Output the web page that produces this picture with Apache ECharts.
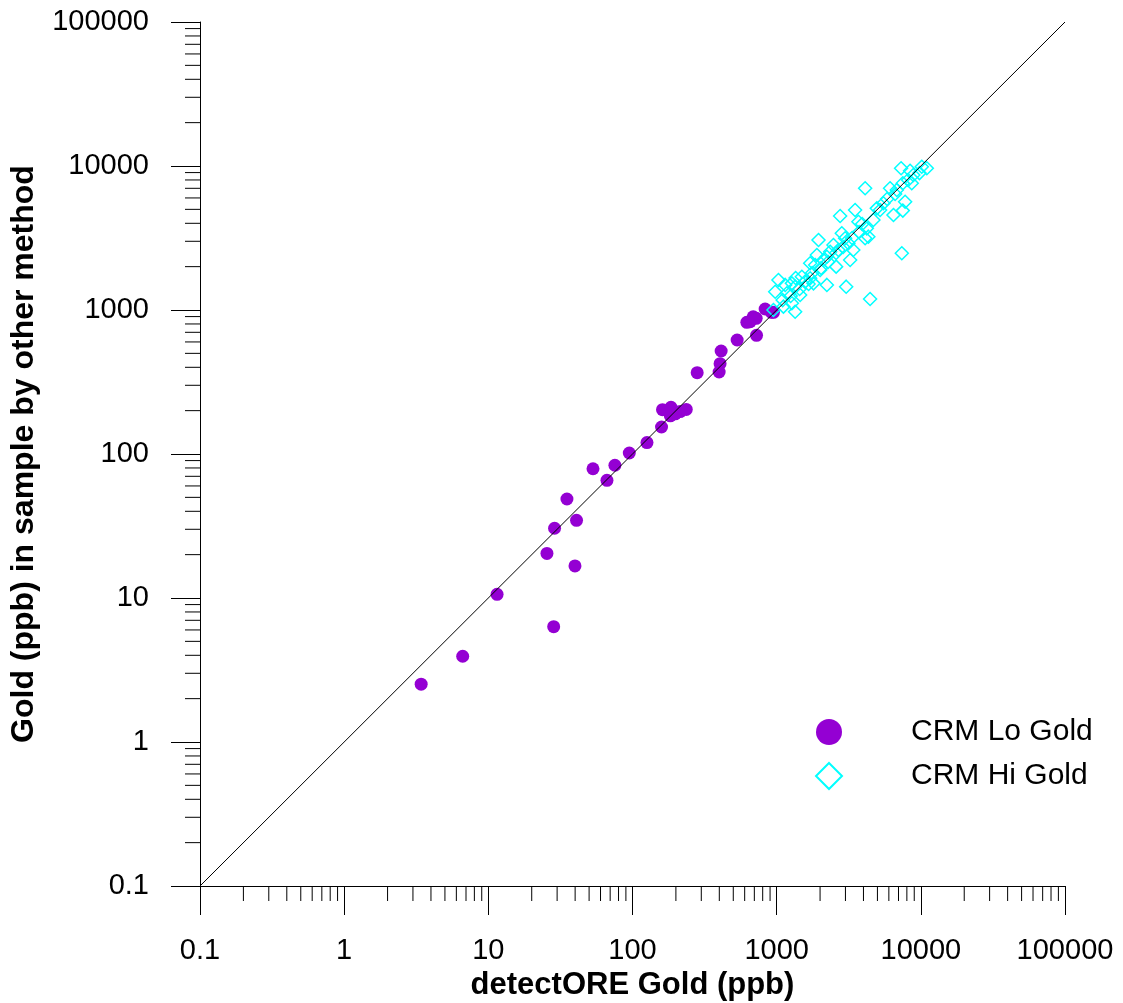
<!DOCTYPE html>
<html>
<head>
<meta charset="utf-8">
<script src="https://cdn.jsdelivr.net/npm/echarts@6/dist/echarts.min.js"></script>
<style>
html,body{margin:0;padding:0;background:#fff;overflow:hidden;}
#chart{width:1123px;height:1003px;}
</style>
</head>
<body>
<div id="chart"></div>
<script>
// ---- data ----
const loX = [3.42, 6.64, 11.5, 28.4, 25.5, 39.9, 28.8, 40.9, 35.1, 53.2, 66.5, 75.5, 95, 126, 159, 161.5, 185, 183, 214, 236, 198, 281, 399, 405, 412, 532, 725, 621, 721, 832, 950, 655, 687, 920];
const loY = [2.52, 3.94, 10.6, 6.32, 20.4, 16.7, 30.5, 34.6, 48.7, 79, 65.6, 83.5, 101.6, 120, 154, 203, 211, 184, 197, 204, 190, 367, 371, 424, 519, 619, 667, 821, 875, 1016, 964, 830, 897, 964];
const hiX = [7295, 8424, 10150, 11000, 8870, 8650, 7500, 6814, 6120, 7780, 7500, 6460, 5500, 4950, 4690, 4108, 3500, 2755, 3690, 4220, 4108, 4325, 2830, 2985, 3145, 2477, 1951, 3400, 3233, 2585, 2230, 1900, 1850, 1708, 1495, 1708, 2230, 3035, 7380, 4446, 2004, 1576, 1275, 1029, 977, 1177, 1343, 1275, 1343, 1114, 950, 1455, 1800, 2350, 2682, 2111, 1100, 1250, 1442, 1665, 1762, 2034, 2275, 2585, 2891, 3336, 3733, 3918, 5218, 5834, 6630, 8160, 9790, 1146, 1353];
const hiY = [9640, 9270, 9880, 9640, 8660, 7590, 7590, 6810, 7000, 5650, 4900, 4570, 5510, 5080, 4220, 7000, 4950, 4500, 4100, 3690, 3150, 3230, 3410, 3150, 2905, 2825, 3060, 2610, 2225, 2000, 2345, 2410, 2053, 2110, 1703, 1660, 1493, 1452, 2478, 1192, 1897, 1574, 1531, 1616, 1340, 1307, 1452, 1113, 973, 1055, 1000, 1270, 1531, 2540, 2610, 2225, 1172, 1250, 1400, 1517, 1808, 1957, 2154, 2489, 2738, 3162, 3481, 3957, 4950, 5900, 6390, 8000, 8930, 1493, 1667];
const oneToOne = [0.1, 100000];
const decades = [0.1, 1, 10, 100, 1000, 10000];
const minorMult = [2, 3, 4, 5, 6, 7, 8, 9];
const axisMin = 0.1, axisMax = 100000;
const seriesNames = ['CRM Lo Gold', 'CRM Hi Gold'];
const xTitle = 'detectORE Gold (ppb)';
const yTitle = 'Gold (ppb) in sample by other method';

const FONT = 'Liberation Sans, Arial, sans-serif';
const PURPLE = '#9400D3';
const CYAN = '#00FFFF';

const minorVals = [];
decades.forEach(d => minorMult.forEach(m => minorVals.push(+(d * m).toPrecision(6))));

const chart = echarts.init(document.getElementById('chart'), null, {renderer: 'canvas'});

function fmt(v) { return String(+(+v).toPrecision(6)); }

const axisCommon = {
  type: 'log', logBase: 10, min: axisMin, max: axisMax, splitNumber: 6,
  axisLine: {show: true, lineStyle: {color: '#000', width: 1}},
  axisTick: {show: true, inside: false, length: 29, lineStyle: {color: '#000', width: 1}},
  splitLine: {show: false},
  minorTick: {show: false},
  axisLabel: {fontFamily: FONT, fontSize: 29, color: '#000', formatter: fmt},
  nameTextStyle: {fontFamily: FONT, fontWeight: 'bold', color: '#000'}
};

const option = {
  animation: false,
  backgroundColor: '#fff',
  grid: {left: 200, top: 22, right: 58, bottom: 117, containLabel: false, outerBoundsMode: 'none'},
  xAxis: Object.assign({}, axisCommon, {
    name: xTitle, nameLocation: 'middle', nameGap: 83,
    nameTextStyle: Object.assign({}, axisCommon.nameTextStyle, {fontSize: 31}),
    axisLabel: Object.assign({}, axisCommon.axisLabel, {margin: 50})
  }),
  yAxis: Object.assign({}, axisCommon, {
    name: yTitle, nameLocation: 'middle', nameGap: 160, nameRotate: 90,
    nameTextStyle: Object.assign({}, axisCommon.nameTextStyle, {fontSize: 32}),
    axisLabel: Object.assign({}, axisCommon.axisLabel, {margin: 51})
  }),
  legend: {
    orient: 'vertical', left: 810, top: 712, itemGap: 14,
    itemWidth: 26, itemHeight: 26,
    textStyle: {fontFamily: FONT, fontSize: 30, color: '#000', padding: [0, 0, 0, 64]},
    data: [
      {name: seriesNames[0], icon: 'circle'},
      {name: seriesNames[1], icon: 'diamond'}
    ]
  },
  series: [
    {
      name: seriesNames[0], type: 'scatter', symbol: 'circle', symbolSize: 13,
      itemStyle: {color: PURPLE, opacity: 1},
      data: loX.map((x, i) => [x, loY[i]]), z: 3
    },
    {
      name: seriesNames[1], type: 'scatter', symbol: 'diamond', symbolSize: 13,
      itemStyle: {color: 'rgba(255,255,255,0)', borderColor: CYAN, borderWidth: 1.5, opacity: 1},
      data: hiX.map((x, i) => [x, hiY[i]]), z: 4
    },
    {
      name: '1:1', type: 'line', showSymbol: false, symbol: 'none',
      lineStyle: {color: '#000', width: 1}, silent: true,
      data: oneToOne.map(v => [v, v]), z: 5
    },
    {
      name: 'xMinor', type: 'custom', silent: true, clip: false, z: 6,
      data: minorVals.map(v => [v, axisMin]),
      renderItem: function (params, api) {
        const p = api.coord([api.value(0), axisMin]);
        return {type: 'line', shape: {x1: p[0], y1: p[1], x2: p[0], y2: p[1] + 15},
                style: {stroke: '#000', lineWidth: 1}};
      }
    },
    {
      name: 'yMinor', type: 'custom', silent: true, clip: false, z: 6,
      data: minorVals.map(v => [axisMin, v]),
      renderItem: function (params, api) {
        const p = api.coord([axisMin, api.value(1)]);
        return {type: 'line', shape: {x1: p[0] - 15, y1: p[1], x2: p[0], y2: p[1]},
                style: {stroke: '#000', lineWidth: 1}};
      }
    }
  ]
};
chart.setOption(option);
</script>
</body>
</html>
